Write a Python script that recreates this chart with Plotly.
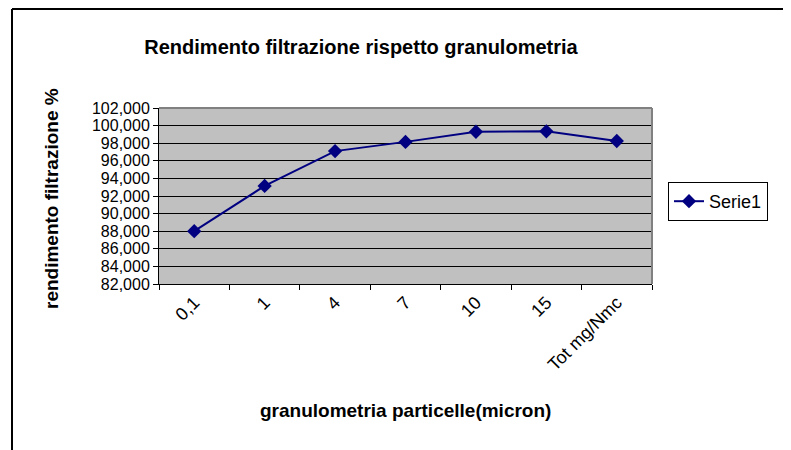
import plotly.graph_objects as go

categories = ["0,1", "1", "4", "7", "10", "15", "Tot mg/Nmc"]
serie1 = [88.0, 93.15, 97.1, 98.15, 99.3, 99.35, 98.25]
series_name = "Serie1"
title_text = "Rendimento filtrazione rispetto granulometria"
x_title = "granulometria particelle(micron)"
y_title = "rendimento filtrazione %"

OFF = 8  # page body margin
W, H = 791 - OFF, 450 - OFF
# plot area in screen pixels, converted to figure pixels
L, R, T, B = 159 - OFF, 652 - OFF, 108 - OFF, 284 - OFF
pw, ph = R - L, B - T

def px_x(p):
    return (p - OFF - L) / pw

def px_y(p):
    return (B - (p - OFF)) / ph

FONT = "Liberation Sans, Arial, sans-serif"

fig = go.Figure()
fig.add_trace(go.Scatter(
    x=categories, y=serie1, name=series_name, mode="lines+markers",
    line=dict(color="#000080", width=2),
    marker=dict(symbol="diamond", size=11, color="#000080"),
    showlegend=True,
))

fig.update_layout(
    width=W, height=H,
    margin=dict(l=L, r=W - R, t=T, b=H - B, autoexpand=False),
    paper_bgcolor="white",
    plot_bgcolor="#C0C0C0",
    separators=",.",
    font=dict(family=FONT, size=18, color="black"),
    title=dict(text="<b>" + title_text + "</b>", x=(361 - OFF) / W,
               y=1 - (47 - OFF) / H,
               xanchor="center", yanchor="middle",
               font=dict(family=FONT, size=20, color="black")),
    xaxis=dict(
        type="category", range=[-0.5, len(categories) - 0.5],
        showgrid=False, showline=True, linecolor="black", linewidth=1,
        ticks="outside", ticklen=5, tickcolor="black", tickson="boundaries",
        tickangle=-45, tickfont=dict(size=18), zeroline=False,
    ),
    yaxis=dict(
        range=[82, 102], tick0=82, dtick=2, tickformat=".3f",
        showgrid=True, gridcolor="black", gridwidth=1,
        showline=True, linecolor="black", linewidth=1,
        ticks="outside", ticklen=5, tickcolor="black",
        tickfont=dict(size=16), zeroline=False,
    ),
    legend=dict(
        x=px_x(668), y=px_y(182), xanchor="left", yanchor="top",
        bordercolor="black", borderwidth=1, bgcolor="white",
        font=dict(size=18), itemwidth=30,
    ),
    showlegend=True,
)

# plot area top/right border (gray)
fig.add_shape(type="line", xref="paper", yref="paper", x0=0, x1=1, y0=1, y1=1,
              line=dict(color="#808080", width=2), layer="above")
fig.add_shape(type="line", xref="paper", yref="paper", x0=1, x1=1, y0=0, y1=1,
              line=dict(color="#808080", width=2), layer="above")
# outer chart border (top and left visible)
fig.add_shape(type="line", xref="paper", yref="paper",
              x0=px_x(12), x1=px_x(800), y0=px_y(9), y1=px_y(9),
              line=dict(color="black", width=2))
fig.add_shape(type="line", xref="paper", yref="paper",
              x0=px_x(12), x1=px_x(12), y0=px_y(9), y1=px_y(460),
              line=dict(color="black", width=2))

fig.add_annotation(text="<b>" + y_title + "</b>", xref="paper", yref="paper",
                   x=px_x(51), y=px_y(199), textangle=-90, showarrow=False,
                   xanchor="center", yanchor="middle",
                   font=dict(family=FONT, size=19, color="black"))
fig.add_annotation(text="<b>" + x_title + "</b>", xref="paper", yref="paper",
                   x=px_x(405), y=px_y(410), showarrow=False,
                   xanchor="center", yanchor="middle",
                   font=dict(family=FONT, size=19, color="black"))

fig.write_html("out.html")
